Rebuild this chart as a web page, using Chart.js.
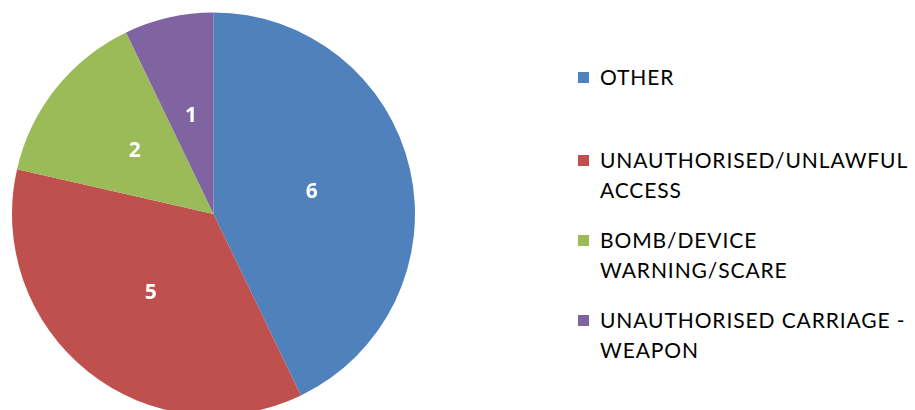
<!DOCTYPE html>
<html>
<head>
<meta charset="utf-8">
<script src="https://cdn.jsdelivr.net/npm/chart.js@4"></script>
<style>
  html, body { margin: 0; padding: 0; background: #fff; }
  body { width: 915px; height: 410px; overflow: hidden; position: relative; font-family: Lato, sans-serif; }
  #wrap { position: absolute; left: 0; top: 0; width: 427px; height: 428px; }
  #legend { position: absolute; left: 0; top: 0; }
  .item { position: absolute; left: 600px; font-size: 21px; letter-spacing: 0.9px; line-height: 30px; color: #000; white-space: nowrap; }
  .box { position: absolute; left: -22px; top: 10px; width: 11px; height: 11px; }
</style>
</head>
<body>
<div id="wrap"><canvas id="myChart"></canvas></div>
<div id="legend"></div>
<script>
// データ
var labels = ['OTHER', 'UNAUTHORISED/UNLAWFUL ACCESS', 'BOMB/DEVICE WARNING/SCARE', 'UNAUTHORISED CARRIAGE - WEAPON'];
var legendLines = [['OTHER'], ['UNAUTHORISED/UNLAWFUL', 'ACCESS'], ['BOMB/DEVICE', 'WARNING/SCARE'], ['UNAUTHORISED CARRIAGE -', 'WEAPON']];
var values = [6, 5, 2, 1];
var colors = ['#4F81BD', '#C0504D', '#9BBB59', '#8064A2'];

// 凡例 (HTMLで描く)
var legendTops = [62, 145, 225, 305];
var legend = document.getElementById('legend');
legendLines.forEach(function(lines, i){
  var d = document.createElement('div');
  d.className = 'item';
  d.style.top = legendTops[i] + 'px';
  d.innerHTML = '<span class="box" style="background:' + colors[i] + '"></span>' + lines.join('<br>');
  legend.appendChild(d);
});

// スライスの中に数値を書く
var valueLabels = {
  id: 'valueLabels',
  afterDatasetsDraw: function(chart){
    var ctx = chart.ctx;
    var meta = chart.getDatasetMeta(0);
    ctx.save();
    ctx.fillStyle = '#fff';
    ctx.font = 'bold 21px "Open Sans", sans-serif';
    ctx.textAlign = 'center';
    ctx.textBaseline = 'middle';
    meta.data.forEach(function(arc, i){
      var p = arc.getCenterPoint();
      ctx.fillText(String(values[i]), p.x, p.y);
    });
    ctx.restore();
  }
};

var ctx = document.getElementById('myChart').getContext('2d');
var myChart = new Chart(ctx, {
  type: 'pie',
  data: {
    labels: labels,
    datasets: [{
      data: values,
      backgroundColor: colors,
      borderWidth: 0
    }]
  },
  options: {
    responsive: true,
    maintainAspectRatio: false,
    animation: false,
    layout: { padding: 12 },
    plugins: {
      legend: { display: false },
      tooltip: { enabled: false }
    }
  },
  plugins: [valueLabels]
});
</script>
</body>
</html>
